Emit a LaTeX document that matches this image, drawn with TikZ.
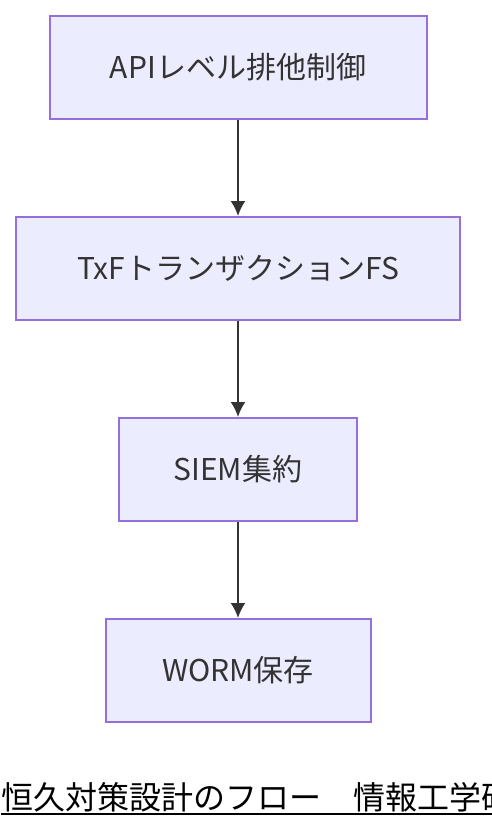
\documentclass[tikz,border=0pt]{standalone}
\usepackage{fontspec}
\setmainfont{Noto Sans CJK JP}
\usepackage{tikz}
\usetikzlibrary{arrows,arrows.meta,calc}
\definecolor{mmfill}{HTML}{ECECFF}
\definecolor{mmline}{HTML}{9370DB}
\definecolor{mmtext}{HTML}{333333}
\tikzset{
    block/.style = {draw=mmline, fill=mmfill, rectangle, line width=2pt,
        minimum height=103pt, text=mmtext, font=\fontsize{30}{34}\selectfont, align=center},
    arrow/.style={draw=mmtext, line width=2pt, -{Latex[length=15pt,width=15pt]}},
    caption/.style = {inner sep=0pt, anchor=base west, font=\fontsize{32}{36}\selectfont}
}

\begin{document}
\begin{tikzpicture}[auto, node distance=201pt, x=1pt, y=1pt]
        \useasboundingbox (0,0) rectangle (492,-828);
        \node [block, minimum width=377pt] (api) at (238,-67.5) {APIレベル排他制御};
        \node [block, minimum width=444pt, below of=api] (txf) {TxFトランザクションFS};
        \node [block, minimum width=238pt, below of=txf] (siem) {SIEM集約};
        \node [block, minimum width=265pt, below of=siem] (worm) {WORM保存};
        \draw [arrow] (api) -- (txf);
        \draw [arrow] (txf) -- (siem);
        \draw [arrow] (siem) -- (worm);
        % title, cut off at the right edge as in the source
        \node [caption] (title) at (1,-809) {恒久対策設計のフロー　情報工学研};
        \draw [line width=2pt] ($(title.base west)+(0,-5)$) -- ($(title.base east)+(0,-5)$);
    \end{tikzpicture}
\end{document}
